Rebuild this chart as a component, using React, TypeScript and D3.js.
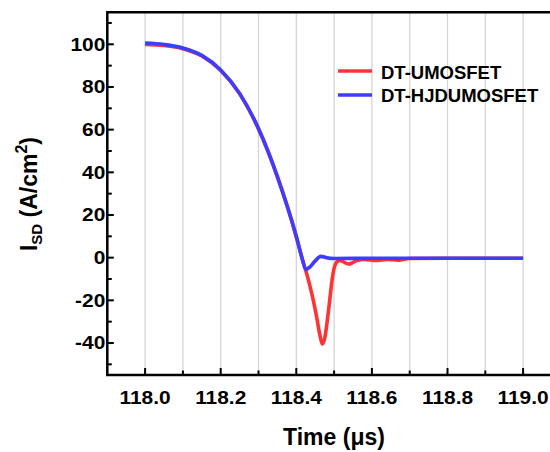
import React from "react";
import * as d3 from "d3";

const xTicks = [118.0, 118.2, 118.4, 118.6, 118.8, 119.0];
const xMinor = [118.1, 118.3, 118.5, 118.7, 118.9];
const yTicks = [-40, -20, 0, 20, 40, 60, 80, 100];
const yMinor = [-50, -30, -10, 10, 30, 50, 70, 90, 110];
const gridX = [118.0, 118.1, 118.2, 118.3, 118.4, 118.5, 118.6, 118.7, 118.8, 118.9, 119.0];

const umosT = [118.0, 118.05, 118.1, 118.15, 118.2, 118.25, 118.3, 118.35, 118.4, 118.415, 118.425, 118.435, 118.445, 118.455, 118.462, 118.469, 118.476, 118.483, 118.489, 118.495, 118.5, 118.507, 118.515, 118.525, 118.537, 118.548, 118.56, 118.58, 118.61, 118.64, 118.67, 118.7, 118.8, 119.0];
const umosI = [99.9, 99.4, 97.9, 94.5, 87.7, 76.8, 60.3, 37.8, 9.7, -0.2, -6, -12.5, -20, -29, -36, -40.5, -37, -28, -19, -10, -5, -2, -1.3, -2, -3, -2.5, -1.3, -0.8, -1.3, -0.8, -1.2, -0.4, -0.3, -0.3];

const hjdT = [118.0, 118.05, 118.1, 118.15, 118.2, 118.25, 118.3, 118.35, 118.4, 118.415, 118.425, 118.435, 118.45, 118.465, 118.48, 118.5, 118.6, 118.8, 119.0];
const hjdI = [100.6, 99.9, 98.3, 94.8, 88, 77, 60.5, 38, 10, 0, -5.5, -4.5, -1.5, 0.6, 0, -0.4, -0.3, -0.3, -0.3];

const legendLabels = ["DT-UMOSFET", "DT-HJDUMOSFET"];
const colors = ["#ff3333", "#3d3dff"];

const W = 550, H = 452;
const FONT = "'Liberation Sans', Arial, Helvetica, sans-serif";

export default function App() {
  const x = d3.scaleLinear().domain([117.9, 119.1]).range([107.3, 560.9]);
  const y = d3.scaleLinear().domain([-55, 115]).range([375, 12.3]);
  const line = d3.line<[number, number]>()
    .x(d => x(d[0]))
    .y(d => y(d[1]))
    .curve(d3.curveMonotoneX);
  const umos = umosT.map((t, i) => [t, umosI[i]] as [number, number]);
  const hjd = hjdT.map((t, i) => [t, hjdI[i]] as [number, number]);
  const x0 = x.range()[0];
  const yb = y.range()[0];
  const yt = y.range()[1];

  return (
    <svg width={W} height={H} style={{ position: "absolute", left: 0, top: 0, background: "#fff" }} fontFamily={FONT} fontWeight="bold">
      <rect x={0} y={0} width={W} height={H} fill="#fff" />
      {gridX.map(v => (
        <line key={"g" + v} x1={x(v)} x2={x(v)} y1={yt} y2={yb} stroke="#d4d4d4" strokeWidth={1.3} />
      ))}
      <path d={line(umos) || ""} fill="none" stroke={colors[0]} strokeWidth={3.6} strokeLinejoin="round" />
      <path d={line(hjd) || ""} fill="none" stroke={colors[1]} strokeWidth={3.6} strokeLinejoin="round" />
      <path d={`M${W + 5},${yt} H${x0} V${yb} H${W + 5}`} fill="none" stroke="#000" strokeWidth={2.5} />
      {yTicks.map(v => (
        <g key={"yt" + v}>
          <line x1={x0} x2={x0 + 6.5} y1={y(v)} y2={y(v)} stroke="#000" strokeWidth={2} />
          <text transform={`translate(${x0 - 2},${y(v) + 6.5}) scale(1.1,1)`} textAnchor="end" fontSize={19}>{v}</text>
        </g>
      ))}
      {yMinor.map(v => (
        <line key={"ym" + v} x1={x0} x2={x0 + 4.5} y1={y(v)} y2={y(v)} stroke="#000" strokeWidth={2} />
      ))}
      {xTicks.map(v => (
        <g key={"xt" + v}>
          <line x1={x(v)} x2={x(v)} y1={yb} y2={yb - 7} stroke="#000" strokeWidth={2} />
          <text transform={`translate(${x(v)},403.5) scale(1.1,1)`} textAnchor="middle" fontSize={19}>{v.toFixed(1)}</text>
        </g>
      ))}
      {xMinor.map(v => (
        <line key={"xm" + v} x1={x(v)} x2={x(v)} y1={yb} y2={yb - 4.5} stroke="#000" strokeWidth={2} />
      ))}
      <text x={334} y={445} textAnchor="middle" fontSize={23}>Time (μs)</text>
      <text transform={`translate(37,194) rotate(-90)`} textAnchor="middle" fontSize={23}>
        I<tspan fontSize={15} dy={5}>SD</tspan><tspan dy={-5}> (A/cm</tspan><tspan fontSize={16} dy={-10}>2</tspan><tspan dy={10}>)</tspan>
      </text>
      {legendLabels.map((l, i) => (
        <g key={l}>
          <line x1={338} x2={372} y1={71 + i * 24} y2={71 + i * 24} stroke={colors[i]} strokeWidth={3.6} />
          <text x={381} y={78.5 + i * 23.5} fontSize={18.5}>{l}</text>
        </g>
      ))}
    </svg>
  );
}
